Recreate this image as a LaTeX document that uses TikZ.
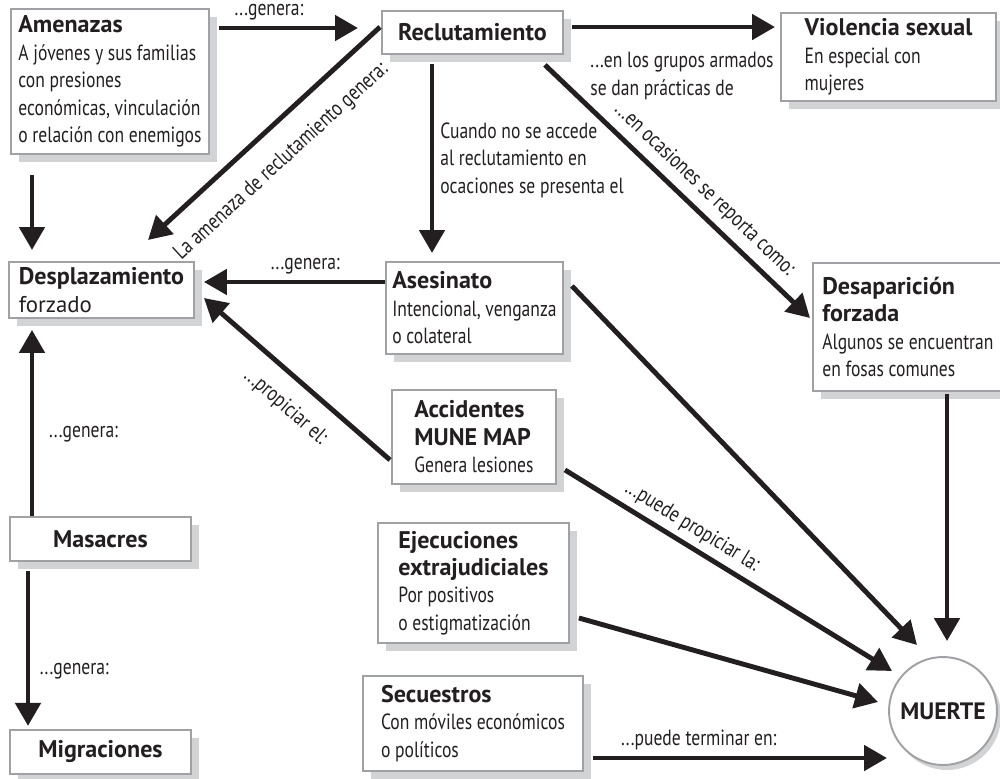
\documentclass[tikz,border=0pt]{standalone}
\usepackage{fontspec}
\setmainfont{PT Sans}
\newfontfamily\narrowfont[FakeStretch=0.8]{PT Sans}
\usepackage{tikz}
\usetikzlibrary{arrows.meta, positioning, calc, shadows}
\definecolor{ink}{HTML}{231F20}
\definecolor{edge}{HTML}{9FA1A4}
\definecolor{shade}{HTML}{D1D3D4}
\newcommand{\hd}[1]{{\normalfont\bfseries\fontsize{13.7}{15.6}\selectfont #1}}
\tikzset{
  entity/.style={
    rectangle, anchor=north west,
    draw=edge, line width=1.1pt, fill=white,
    align=left, text=ink, inner sep=0pt,
    font=\narrowfont\fontsize{12.5}{15.6}\selectfont,
    drop shadow={shadow xshift=0.16cm, shadow yshift=-0.16cm, fill=shade, opacity=1},
  },
  boxsize/.style 2 args={minimum width=#1*0.02cm, minimum height=#2*0.02cm},
  outcome/.style={
    circle, minimum size=2.16cm, inner sep=0pt,
    draw=edge, line width=1.1pt, fill=white, text=ink,
    font=\bfseries\fontsize{13.5}{15.6}\selectfont,
    drop shadow={shadow xshift=0.08cm, shadow yshift=-0.1cm, fill=shade, opacity=1},
  },
  arrow/.style={-{Triangle[length=0.46cm, width=0.5cm]}, line width=2.8pt, color=ink},
  note/.style={font=\narrowfont\fontsize{12.5}{15.6}\selectfont, text=ink, align=left},
}

\begin{document}
\begin{tikzpicture}[x=0.02cm, y=-0.02cm]

  \useasboundingbox (0,0) rectangle (1000,778);

  \node[entity, boxsize={198}{145}] (amen) at (10,8) {\hd{Amenazas}\\A jóvenes y sus familias\\con presiones\\económicas, vinculación\\o relación con enemigos};
  \node[entity, boxsize={181}{43}, align=center] (reclu) at (381,10) {\hd{Reclutamiento}};
  \node[entity, boxsize={215}{88}] (viol) at (780,12) {\hd{Violencia sexual}\\En especial con\\mujeres};
  \node[entity, boxsize={185}{56}] (despl) at (8,261) {\hd{Desplazamiento}\\{\normalfont\fontsize{13}{15.6}\selectfont forzado}};
  \node[entity, boxsize={177}{92}] (asesi) at (385,261) {\hd{Asesinato}\\Intencional, venganza\\o colateral};
  \node[entity, boxsize={190}{128}] (desap) at (812,262) {\hd{Desaparición}\\\hd{forzada}\\Algunos se encuentran\\en fosas comunes};
  \node[entity, boxsize={164}{94}] (accid) at (391,389) {\hd{Accidentes}\\\hd{MUNE MAP}\\Genera lesiones};
  \node[entity, boxsize={191}{120}] (ejec) at (377,522) {\hd{Ejecuciones}\\\hd{extrajudiciales}\\Por positivos\\o estigmatización};
  \node[entity, boxsize={220}{95}] (secu) at (362,675) {\hd{Secuestros}\\Con móviles económicos\\o políticos};
  \node[entity, boxsize={181}{44}, align=center] (masa) at (9,516) {\hd{Masacres}};
  \node[entity, boxsize={181}{44}, align=center, below=3.34cm of masa] (migra) {\hd{Migraciones}};
  \node[outcome] (muerte) at (943,711) {MUERTE};

  % salidas de reclutamiento
  \draw[arrow] ($(amen.north east)+(9,20)$) -- node[note, above, pos=.36]{...genera:} ($(reclu.north west)+(-23,18)$);
  \draw[arrow] ($(reclu.north east)+(8,17)$) -- node[note, below right, pos=.05, yshift=-0.34cm]{...en los grupos armados\\se dan prácticas de} ($(viol.north west)+(-5,15)$);
  \draw[arrow] ($(reclu.south west)+(51,9)$) -- node[note, right, pos=.51]{Cuando no se accede\\al reclutamiento en\\ocaciones se presenta el} ($(asesi.north west)+(47,-8)$);
  \draw[arrow] ($(reclu.south east)+(-19,10)$) -- node[note, above=1pt, sloped, pos=.55]{...en ocasiones se reporta como:} ($(desap.north west)+(-2,56)$);
  \draw[arrow] ($(reclu.north west)+(-1,17)$) -- node[note, below=8pt, sloped, pos=.52]{La amenaza de reclutamiento genera:} ($(despl.north west)+(140,-21)$);

  % hacia desplazamiento
  \draw[arrow] ($(amen.south west)+(22,20)$) -- ($(despl.north west)+(24,-11)$);
  \draw[arrow] ($(asesi.north west)+(0,21)$) -- node[note, above, pos=.44]{...genera:} ($(despl.north east)+(9,21)$);
  \draw[arrow] ($(accid.south west)+(-1,-25)$) -- node[note, below=6pt, sloped, pos=.46]{...propiciar el:} ($(despl.north east)+(9,37)$);
  \draw[arrow] ($(masa.north west)+(23,0)$) -- node[note, right=5pt, pos=.44]{...genera:} ($(despl.south west)+(24,11)$);
  \draw[arrow] ($(masa.south west)+(19,9)$) -- node[note, right=2pt, pos=.65]{...genera:} ($(migra.north west)+(19,-3)$);

  % hacia muerte
  \draw[arrow] ($(desap.south west)+(135,2)$) -- ($(muerte.north)+(4,-15)$);
  \draw[arrow] ($(asesi.north east)+(8,25)$) -- ($(muerte.center)+(-26,-66)$);
  \draw[arrow] ($(accid.south east)+(8,-15)$) -- node[note, above, sloped, pos=.36]{...puede propiciar la:} ($(muerte.center)+(-51,-40)$);
  \draw[arrow] ($(ejec.north east)+(9,96)$) -- ($(muerte.center)+(-65,-9)$);
  \draw[arrow] ($(secu.north east)+(9,83)$) -- node[note, above, pos=.36]{...puede terminar en:} ($(muerte.center)+(-56,47)$);

\end{tikzpicture}
\end{document}
